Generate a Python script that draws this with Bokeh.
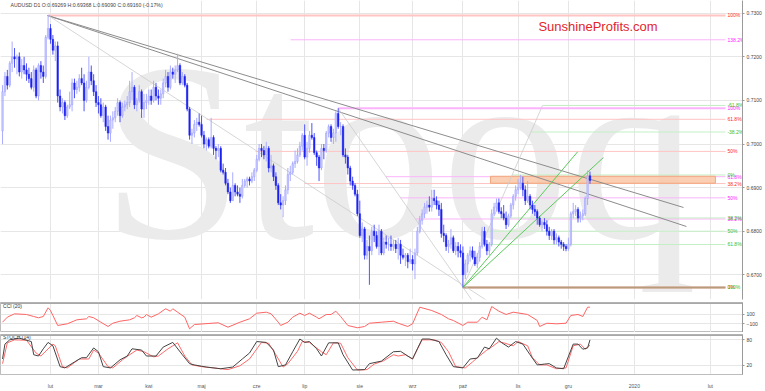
from bokeh.plotting import figure
from bokeh.layouts import column
from bokeh.models import Range1d, FixedTicker, PrintfTickFormatter, Label, Span
from bokeh.embed import file_html
from bokeh.resources import INLINE
from bokeh.core.properties import value

# ---------------- data (AUDUSD daily, bar index 3..248) ----------------
opens = [
 0.7030,0.7120,0.7155,0.7135,0.7185,0.7200,0.7195,0.7200,0.7165,0.7180,0.7170,0.7160,0.7150,0.7130,0.7170,0.7110,0.7180,0.7165,0.7155,0.7245,
 0.7265,0.7240,0.7215,0.7225,0.7110,0.7085,0.7095,0.7065,0.7085,0.7090,0.7140,0.7125,0.7130,0.7150,0.7140,0.7100,0.7130,0.7165,0.7145,0.7120,
 0.7095,0.7090,0.7065,0.7085,0.7040,0.7025,0.7055,0.7060,0.7075,0.7095,0.7065,0.7085,0.7090,0.7095,0.7120,0.7130,0.7090,0.7100,0.7120,0.7080,0.7095,
 0.7100,0.7110,0.7100,0.7130,0.7110,0.7105,0.7115,0.7140,0.7155,0.7130,0.7165,0.7160,0.7170,0.7180,0.7140,0.7155,0.7135,0.7080,0.7020,0.7025,0.7045,0.7050,
 0.7045,0.7020,0.7000,0.7010,0.6995,0.7015,0.6990,0.6985,0.6990,0.6940,0.6935,0.6910,0.6890,0.6870,0.6905,0.6890,0.6885,0.6880,0.6905,0.6915,0.6920,0.6915,0.6925,
 0.6940,0.6965,0.6990,0.6985,0.6975,0.6990,0.6945,0.6950,0.6925,0.6905,0.6865,0.6860,0.6870,0.6895,0.6930,0.6935,0.6955,0.6960,0.6975,0.6995,
 0.7020,0.6970,0.6990,0.7020,0.7015,0.6980,0.6970,0.6945,0.6990,0.6985,0.7025,0.7040,0.7015,0.7025,0.7070,0.7040,0.7040,0.6975,0.6970,0.6945,0.6915,0.6905,0.6885,
 0.6840,0.6790,0.6805,0.6745,0.6765,0.6755,0.6800,0.6790,0.6765,0.6800,0.6750,0.6775,0.6770,0.6770,0.6765,0.6770,0.6760,0.6770,0.6745,0.6740,0.6745,0.6730,
 0.6735,0.6725,0.6750,0.6800,0.6825,0.6840,0.6855,0.6860,0.6855,0.6875,0.6870,0.6860,0.6850,0.6795,0.6790,0.6765,0.6770,0.6785,0.6755,0.6765,0.6755,
 0.6750,0.6700,0.6725,0.6745,0.6755,0.6740,0.6725,0.6740,0.6765,0.6800,0.6770,0.6755,0.6770,0.6840,0.6855,0.6865,0.6845,0.6840,0.6830,0.6815,0.6835,0.6860,0.6880,
 0.6895,0.6900,0.6910,0.6895,0.6870,0.6880,0.6860,0.6850,0.6845,0.6830,0.6815,0.6820,0.6815,0.6800,0.6790,0.6800,0.6780,0.6785,0.6775,0.6770,0.6765,
 0.6760,0.6770,0.6840,0.6845,0.6850,0.6830,0.6835,0.6840,0.6875,0.69269]
highs = [
 0.7135,0.7165,0.7170,0.7190,0.7235,0.7220,0.7205,0.7210,0.7195,0.7200,0.7185,0.7175,0.7165,0.7180,0.7175,0.7185,0.7190,0.7180,0.7250,0.7296,
 0.7275,0.7250,0.7235,0.7235,0.7125,0.7105,0.7100,0.7090,0.7120,0.7150,0.7150,0.7145,0.7160,0.7175,0.7160,0.7145,0.7200,0.7180,0.7160,0.7135,
 0.7110,0.7105,0.7095,0.7090,0.7065,0.7065,0.7075,0.7085,0.7105,0.7100,0.7095,0.7100,0.7110,0.7145,0.7165,0.7135,0.7105,0.7135,0.7125,0.7115,0.7115,
 0.7125,0.7125,0.7145,0.7140,0.7125,0.7125,0.7150,0.7170,0.7165,0.7180,0.7175,0.7180,0.7207,0.7185,0.7165,0.7160,0.7140,0.7085,0.7035,0.7055,0.7060,0.7070,
 0.7065,0.7030,0.7015,0.7015,0.7060,0.7020,0.6995,0.7000,0.6995,0.6955,0.6945,0.6920,0.6900,0.6935,0.6910,0.6905,0.6900,0.6920,0.6920,0.6925,0.6925,0.6935,0.6945,
 0.6975,0.7000,0.7000,0.6995,0.7005,0.6995,0.6975,0.6955,0.6935,0.6910,0.6885,0.6880,0.6905,0.6945,0.6950,0.6960,0.6985,0.6990,0.7005,0.7025,
 0.7045,0.7005,0.7030,0.7048,0.7025,0.6985,0.6975,0.7000,0.7000,0.7030,0.7045,0.7045,0.7035,0.7075,0.7082,0.7050,0.7045,0.6990,0.6975,0.6950,0.6925,0.6910,0.6895,
 0.6870,0.6820,0.6810,0.6780,0.6790,0.6810,0.6815,0.6800,0.6815,0.6805,0.6785,0.6790,0.6785,0.6790,0.6780,0.6780,0.6785,0.6780,0.6760,0.6750,0.6750,0.6760,
 0.6745,0.6760,0.6810,0.6835,0.6850,0.6865,0.6870,0.6880,0.6895,0.6895,0.6880,0.6870,0.6865,0.6815,0.6795,0.6780,0.6805,0.6790,0.6775,0.6775,0.6770,
 0.6765,0.6735,0.6750,0.6765,0.6765,0.6755,0.6750,0.6775,0.6810,0.6810,0.6780,0.6775,0.6850,0.6865,0.6875,0.6875,0.6855,0.6860,0.6845,0.6840,0.6865,0.6885,0.6905,
 0.6920,0.6929,0.6925,0.6905,0.6915,0.6885,0.6870,0.6860,0.6850,0.6835,0.6825,0.6830,0.6825,0.6810,0.6805,0.6805,0.6795,0.6790,0.6780,0.6775,0.6770,
 0.6785,0.6845,0.6865,0.6860,0.6855,0.6845,0.6850,0.6880,0.6939,0.69368]
lows = [
 0.7000,0.7110,0.7125,0.7130,0.7165,0.7175,0.7160,0.7155,0.7150,0.7160,0.7145,0.7140,0.7125,0.7120,0.7105,0.7100,0.7150,0.7140,0.7150,0.7240,
 0.7230,0.7205,0.7190,0.7095,0.7075,0.7070,0.7055,0.7060,0.7080,0.7075,0.7105,0.7115,0.7120,0.7135,0.7075,0.7095,0.7125,0.7135,0.7110,0.7085,
 0.7070,0.7060,0.7050,0.7030,0.7010,0.7005,0.7035,0.7050,0.7065,0.7050,0.7060,0.7075,0.7080,0.7085,0.7100,0.7080,0.7075,0.7095,0.7060,0.7060,0.7080,
 0.7090,0.7090,0.7095,0.7100,0.7090,0.7090,0.7105,0.7130,0.7120,0.7125,0.7150,0.7140,0.7165,0.7135,0.7135,0.7130,0.7075,0.7010,0.7000,0.7015,0.7030,0.7040,
 0.7015,0.6990,0.6985,0.6990,0.6990,0.6975,0.6965,0.6970,0.6935,0.6930,0.6905,0.6885,0.6865,0.6870,0.6880,0.6880,0.6865,0.6875,0.6900,0.6900,0.6905,0.6910,0.6915,
 0.6935,0.6960,0.6970,0.6965,0.6960,0.6935,0.6935,0.6915,0.6895,0.6860,0.6850,0.6832,0.6860,0.6885,0.6915,0.6930,0.6945,0.6955,0.6970,0.6985,
 0.6965,0.6950,0.6980,0.7010,0.6975,0.6950,0.6915,0.6940,0.6965,0.6980,0.7015,0.7005,0.7000,0.7005,0.7035,0.7020,0.6970,0.6955,0.6930,0.6905,0.6895,0.6880,0.6835,
 0.6785,0.6775,0.6735,0.6735,0.6677,0.6745,0.6775,0.6760,0.6745,0.6745,0.6745,0.6760,0.6755,0.6755,0.6755,0.6750,0.6735,0.6725,0.6735,0.6720,0.6715,0.6725,
 0.6710,0.6690,0.6745,0.6795,0.6815,0.6830,0.6840,0.6845,0.6845,0.6860,0.6850,0.6835,0.6785,0.6775,0.6755,0.6750,0.6760,0.6750,0.6745,0.6740,0.6740,
 0.6671,0.6690,0.6705,0.6730,0.6735,0.6720,0.6715,0.6730,0.6760,0.6765,0.6745,0.6745,0.6765,0.6835,0.6845,0.6840,0.6830,0.6825,0.6805,0.6810,0.6830,0.6850,0.6870,
 0.6885,0.6895,0.6880,0.6860,0.6865,0.6850,0.6840,0.6835,0.6815,0.6810,0.6800,0.6805,0.6790,0.6780,0.6780,0.6770,0.6770,0.6765,0.6760,0.6755,0.6754,
 0.6755,0.6765,0.6830,0.6835,0.6820,0.6820,0.6825,0.6835,0.6860,0.69090]
closes = [
 0.7120,0.7155,0.7135,0.7185,0.7200,0.7195,0.7200,0.7165,0.7180,0.7170,0.7160,0.7150,0.7130,0.7170,0.7110,0.7180,0.7165,0.7155,0.7245,0.7265,
 0.7240,0.7215,0.7225,0.7110,0.7085,0.7095,0.7065,0.7085,0.7090,0.7140,0.7125,0.7130,0.7150,0.7140,0.7100,0.7130,0.7165,0.7145,0.7120,0.7095,
 0.7090,0.7065,0.7085,0.7040,0.7025,0.7055,0.7060,0.7075,0.7095,0.7065,0.7085,0.7090,0.7095,0.7120,0.7130,0.7090,0.7100,0.7120,0.7080,0.7095,0.7100,
 0.7110,0.7100,0.7130,0.7110,0.7105,0.7115,0.7140,0.7155,0.7130,0.7165,0.7160,0.7170,0.7180,0.7140,0.7155,0.7135,0.7080,0.7020,0.7025,0.7045,0.7050,0.7045,
 0.7020,0.7000,0.7010,0.6995,0.7015,0.6990,0.6985,0.6990,0.6940,0.6935,0.6910,0.6890,0.6870,0.6905,0.6890,0.6885,0.6880,0.6905,0.6915,0.6920,0.6915,0.6925,0.6940,
 0.6965,0.6990,0.6985,0.6975,0.6990,0.6945,0.6950,0.6925,0.6905,0.6865,0.6860,0.6870,0.6895,0.6930,0.6935,0.6955,0.6960,0.6975,0.6995,0.7020,
 0.6970,0.6990,0.7020,0.7015,0.6980,0.6970,0.6945,0.6990,0.6985,0.7025,0.7040,0.7015,0.7025,0.7070,0.7040,0.7040,0.6975,0.6970,0.6945,0.6915,0.6905,0.6885,0.6840,
 0.6790,0.6805,0.6745,0.6765,0.6755,0.6800,0.6790,0.6765,0.6800,0.6750,0.6775,0.6770,0.6770,0.6765,0.6770,0.6760,0.6770,0.6745,0.6740,0.6745,0.6730,0.6735,
 0.6725,0.6750,0.6800,0.6825,0.6840,0.6855,0.6860,0.6855,0.6875,0.6870,0.6860,0.6850,0.6795,0.6790,0.6765,0.6770,0.6785,0.6755,0.6765,0.6755,0.6750,
 0.6700,0.6725,0.6745,0.6755,0.6740,0.6725,0.6740,0.6765,0.6800,0.6770,0.6755,0.6770,0.6840,0.6855,0.6865,0.6845,0.6840,0.6830,0.6815,0.6835,0.6860,0.6880,0.6895,
 0.6900,0.6910,0.6895,0.6870,0.6880,0.6860,0.6850,0.6845,0.6830,0.6815,0.6820,0.6815,0.6800,0.6790,0.6800,0.6780,0.6785,0.6775,0.6770,0.6765,0.6760,
 0.6770,0.6840,0.6845,0.6850,0.6830,0.6835,0.6840,0.6875,0.6927,0.69160]
bar_index = list(range(3, 249))

cci_x = [3,5,8,13,16,18,20,22,23,24,26,30,34,38,39,41,44,47,49,52,56,58,59,61,62,63,65,68,71,73,
         74,76,79,81,83,87,93,97,102,106,109,113,115,118,119,122,124,127,129,131,134,135,138,140,142,144,147,151,154,156,
         161,166,168,172,174,177,182,186,189,191,195,197,201,203,205,207,210,213,216,222,226,227,230,234,238,240,243,245,247,248]
cci_v = [-67,38,108,94,52,25,52,233,177,73,-135,-100,-17,4,52,25,-67,-156,-88,-46,-17,25,73,25,38,94,38,108,213,163,
         213,142,38,-204,-115,-100,-79,-171,-67,4,121,142,108,-67,-135,-67,38,121,73,121,38,4,94,94,163,52,-135,-183,-156,-88,
         -67,-46,-88,-156,-100,246,177,94,4,-31,-135,-67,-67,38,-17,260,163,94,142,94,-31,-156,-88,-100,-88,73,94,52,246,246]

stk_x = [3,4,6,10,15,16,18,20,22,24,27,29,33,36,38,41,43,45,48,52,55,57,61,63,67,70,74,78,81,83,
         88,94,99,103,106,109,113,116,118,121,124,127,129,131,134,136,139,143,145,149,154,156,161,166,169,172,174,176,178,181,
         185,188,191,195,198,201,204,206,209,211,214,217,220,223,226,229,231,234,237,241,243,245,247,248]
stk_v = [35,70,80,84,76,45,42,59,74,66,17,14,28,38,38,61,52,17,14,33,42,59,56,42,42,63,74,45,24,21,
         16,12,16,35,49,76,74,56,17,21,52,82,74,76,59,42,73,73,45,9,10,24,30,52,53,42,35,59,82,82,
         76,45,17,14,35,37,63,59,84,74,63,76,70,45,21,23,24,14,12,70,70,58,61,80]
std_x = [3,5,8,13,17,19,24,25,28,30,35,39,41,43,47,49,53,56,59,62,66,68,72,76,79,82,86,91,97,102,
         106,111,114,117,120,122,126,128,131,136,138,141,144,147,151,155,158,162,166,168,171,174,178,183,186,189,192,196,199,201,
         205,207,210,212,216,218,222,224,227,230,234,238,241,244,246,247,248]
std_v = [24,73,80,79,49,42,70,66,17,14,35,35,56,49,17,14,33,45,56,52,40,42,59,73,42,21,17,14,10,19,
         35,74,72,45,16,24,53,76,74,52,45,73,72,38,9,10,23,31,45,42,45,35,80,80,74,52,17,14,28,38,
         56,63,76,73,66,76,66,38,21,21,12,14,66,70,58,63,68]

month_ticks = [23, 43, 64, 86, 109, 129, 152, 174, 195, 218, 239, 266.5, 298.2]
month_labels = ["lut", "mar", "kwi", "maj", "cze", "lip", "sie", "wrz", "paź", "lis", "gru", "2020", "lut"]
price_ticks = [0.6700, 0.6800, 0.6900, 0.7000, 0.7100, 0.7200, 0.7300]

# Fibonacci anchors: (bar index, price) of the swing points
red_hi_x, red_hi = 22, 0.7295
mag_hi_x, mag_hi = 143, 0.7082
low_x, low_p = 195, 0.6671
grn_top = 0.6929
grn_ext_x, grn_ext = 228.2, 0.70883
red_pcts = [100, 61.8, 50, 38.2, 0]
mag_pcts = [138.2, 100, 61.8, 50, 38.2]
grn_pcts = [-61.8, -38.2, 0, 38.2, 50, 61.8, 100]

FONT = "Liberation Sans"
X0, X1 = 2.15, 311.6
xr = Range1d(X0, X1)

def style(fig):
    fig.xgrid.ticker = FixedTicker(ticks=month_ticks)
    fig.xgrid.grid_line_color = "#e6e6e6"
    fig.ygrid.grid_line_color = "#e6e6e6"
    fig.yaxis.axis_line_color = "#9a9a9a"
    fig.yaxis.major_tick_line_color = "#9a9a9a"
    fig.yaxis.major_tick_out = 2
    fig.yaxis.major_tick_in = 0
    fig.yaxis.minor_tick_line_color = None
    fig.yaxis.major_label_text_font = FONT
    fig.yaxis.major_label_text_font_size = "5px"
    fig.yaxis.major_label_text_color = "#444444"
    fig.yaxis.major_label_standoff = 2
    fig.background_fill_color = "white"
    fig.border_fill_color = "white"

# ---------------- main panel ----------------
main = figure(width=765, height=300, x_range=xr, y_range=Range1d(0.664335, 0.732913),
              output_backend="svg", toolbar_location=None, y_axis_location="right",
              min_border_left=0, min_border_right=23, min_border_top=0, min_border_bottom=1)
style(main)
main.outline_line_color = None
main.xaxis.visible = False
main.yaxis.ticker = FixedTicker(ticks=price_ticks)
main.yaxis.formatter = PrintfTickFormatter(format="%.4f")
main.ygrid.ticker = FixedTicker(ticks=price_ticks)

# watermark
main.text(x=[44.3], y=[0.6982], text=["Stooq"], text_font=value("Liberation Serif"),
          text_font_size="255px", text_color="#ebebeb", text_baseline="middle")

LX_END, LBL_X = 304.5, 305.3

def on_diag(p, xa, pa, xb, pb):
    return xa + (p - pa) / (pb - pa) * (xb - xa)

def draw_level(yv, x_start, lab, line_col, txt_col, w=1):
    main.segment(x0=[x_start], y0=[yv], x1=[LX_END], y1=[yv], line_color=line_col, line_width=w)
    main.text(x=[LBL_X], y=[yv], text=[lab], text_font=value(FONT), text_font_size="5px",
              text_color=txt_col, text_baseline="middle")

for pc in red_pcts:
    yv = low_p + (red_hi - low_p) * pc / 100.0
    xs = on_diag(yv, red_hi_x, red_hi, low_x, low_p)
    draw_level(yv, xs, ("%g" % pc) + "%", "#ffc4c4", "#ff2a2a", 2 if pc in (100, 0) else 1)
for pc in mag_pcts:
    yv = low_p + (mag_hi - low_p) * pc / 100.0
    xs = on_diag(yv, mag_hi_x, mag_hi, low_x, low_p)
    draw_level(yv, xs, ("%g" % pc) + "%", "#fbb4fb", "#ff22ff", 2 if pc == 100 else 1)
for pc in grn_pcts:
    yv = grn_top - (grn_top - low_p) * pc / 100.0
    xs = on_diag(yv, low_x, low_p, grn_ext_x, grn_ext)
    draw_level(yv, xs, ("%g" % pc) + "%", "#c4efc4", "#33c033")
main.segment(x0=[low_x], y0=[low_p], x1=[LX_END], y1=[low_p], line_color="#b89a7c", line_width=2)

# resistance zone
main.quad(left=[206.5], right=[300.3], bottom=[0.6910], top=[0.6926],
          fill_color="#f9c7a6", fill_alpha=0.85, line_color="#f2a77c", line_width=1)

# trend lines
main.line(x=[21.75, 287.0], y=[0.72947, 0.68544], line_color="#8c8c8c", line_width=1)
main.line(x=[21.75, 288.2], y=[0.72947, 0.68108], line_color="#8c8c8c", line_width=1)
main.line(x=[red_hi_x, 205.0], y=[red_hi, 0.66410], line_color="#cccccc", line_width=0.8)
main.line(x=[mag_hi_x, 199.0], y=[mag_hi, 0.66400], line_color="#cccccc", line_width=0.8)
main.line(x=[low_x, grn_ext_x], y=[low_p, grn_ext], line_color="#cccccc", line_width=0.8)
main.line(x=[low_x, 242.8], y=[low_p, 0.69819], line_color="#5cc85c", line_width=1)
main.line(x=[low_x, 253.6], y=[low_p, 0.69690], line_color="#5cc85c", line_width=1)

# candles
up = [i for i in range(len(closes)) if closes[i] >= opens[i]]
dn = [i for i in range(len(closes)) if closes[i] < opens[i]]
def pick(arr, idx):
    return [arr[i] for i in idx]
main.segment(x0=pick(bar_index, up), y0=pick(highs, up), x1=pick(bar_index, up), y1=pick(lows, up),
             line_color="#a9acff", line_width=1)
main.segment(x0=pick(bar_index, dn), y0=pick(highs, dn), x1=pick(bar_index, dn), y1=pick(lows, dn),
             line_color="#5055f5", line_width=1)
main.vbar(x=pick(bar_index, up), width=0.62, top=pick(closes, up), bottom=pick(opens, up),
          fill_color="#c9cbff", line_color="#9a9dff", line_width=0.5)
main.vbar(x=pick(bar_index, dn), width=0.62, top=pick(opens, dn), bottom=pick(closes, dn),
          fill_color="#1d22f0", line_color="#1d22f0", line_width=0.5)

# texts
main.text(x=[6.3], y=[0.73188], text=["AUDUSD D1 O:0.69269 H:0.69368 L:0.69090 C:0.69160 (-0.17%)"],
          text_font=value(FONT), text_font_size="5.2px", text_color="#444444", text_baseline="middle")
main.text(x=[226.5], y=[0.72695], text=["SunshineProfits.com"], text_font=value(FONT),
          text_font_size="13px", text_color="#e3262c", text_baseline="middle")
main.add_layout(Label(x=312.0, y=0.6916, text="0.69160", text_font=FONT, text_font_size="5px",
                      text_color="white", background_fill_color="black", text_baseline="middle"))

# ---------------- CCI panel ----------------
cci = figure(width=765, height=32, x_range=xr, y_range=Range1d(-281.25, 343.75),
             output_backend="svg", toolbar_location=None, y_axis_location="right",
             min_border_left=0, min_border_right=23, min_border_top=2, min_border_bottom=0)
style(cci)
cci.outline_line_color = "#bdbdbd"
cci.xaxis.visible = False
cci.yaxis.ticker = FixedTicker(ticks=[-100, 100])
cci.ygrid.ticker = FixedTicker(ticks=[-100, 100])
cci.add_layout(Span(location=343.75, dimension="width", line_color="#a8a8a8", line_width=3))
cci.line(cci_x, cci_v, line_color="#ff6464", line_width=1)
cci.text(x=[3.2], y=[262], text=["CCI (20)"], text_font=value(FONT), text_font_size="5px",
         text_color="#333333", text_baseline="middle")
cci.add_layout(Label(x=312.0, y=246, text="246.3", text_font=FONT, text_font_size="5px",
                     text_color="white", background_fill_color="#ff2020", text_baseline="middle"))

# ---------------- Stoch panel ----------------
sto = figure(width=765, height=59, x_range=xr, y_range=Range1d(-1.5, 92.6),
             output_backend="svg", toolbar_location=None, y_axis_location="right",
             min_border_left=0, min_border_right=23, min_border_top=2, min_border_bottom=12)
style(sto)
sto.outline_line_color = "#bdbdbd"
sto.yaxis.ticker = FixedTicker(ticks=[20, 80])
sto.ygrid.ticker = FixedTicker(ticks=[20, 80])
sto.xaxis.ticker = FixedTicker(ticks=month_ticks)
sto.xaxis.major_label_overrides = {t: l for t, l in zip(month_ticks, month_labels)}
sto.xaxis.major_label_text_font = FONT
sto.xaxis.major_label_text_font_size = "5px"
sto.xaxis.major_label_text_color = "#555555"
sto.xaxis.major_tick_line_color = None
sto.xaxis.minor_tick_line_color = None
sto.xaxis.axis_line_color = "#bdbdbd"
sto.xaxis.major_label_standoff = 2
sto.add_layout(Span(location=92.6, dimension="width", line_color="#a8a8a8", line_width=3))
sto.line(std_x, std_v, line_color="#ff6a6a", line_width=1)
sto.line(stk_x, stk_v, line_color="#444444", line_width=1)
sto.text(x=[3.2], y=[86], text=["STOCH (14)"], text_font=value(FONT), text_font_size="5px",
         text_color="#333333", text_baseline="middle")
sto.add_layout(Label(x=312.0, y=80, text="80", text_font=FONT, text_font_size="5px",
                     text_color="white", background_fill_color="black", text_baseline="middle"))
sto.add_layout(Label(x=312.0, y=68, text="68", text_font=FONT, text_font_size="5px",
                     text_color="white", background_fill_color="#ff2020", text_baseline="middle"))

layout = column(main, cci, sto)
open("out.html", "w").write(file_html(layout, INLINE))
